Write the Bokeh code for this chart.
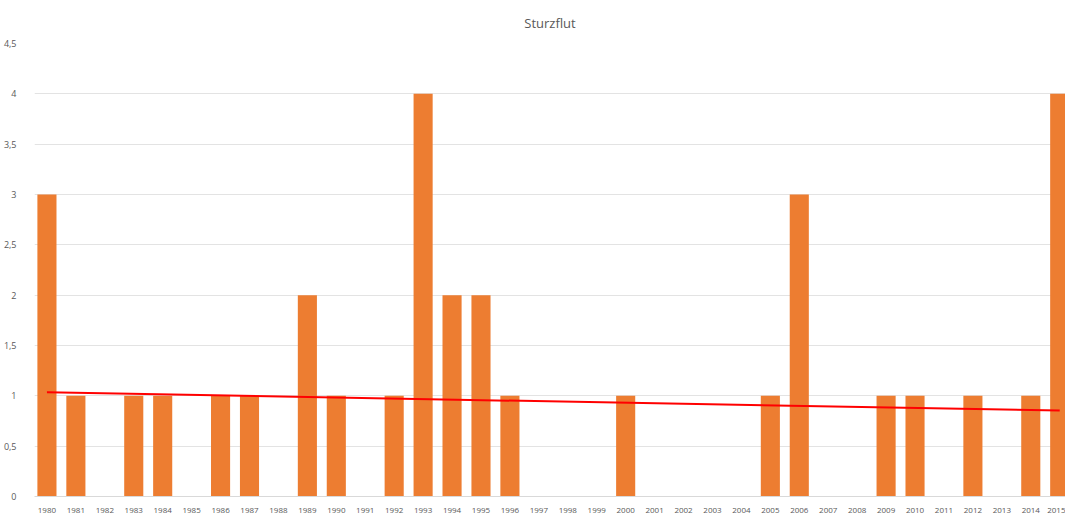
from bokeh.plotting import figure
from bokeh.models import FixedTicker, ColumnDataSource, Range1d
from bokeh.embed import file_html
from bokeh.resources import INLINE
import numpy as np

years = list(range(1980, 2016))
counts = [3, 1, 0, 1, 1, 0, 1, 1, 0, 2, 1, 0, 1, 4, 2, 2, 1, 0, 0, 0,
          1, 0, 0, 0, 0, 1, 3, 0, 0, 1, 1, 0, 1, 0, 1, 4]
y_ticks = [0, 0.5, 1, 1.5, 2, 2.5, 3, 3.5, 4, 4.5]
y_tick_labels = ["0", "0,5", "1", "1,5", "2", "2,5", "3", "3,5", "4", "4,5"]
title_text = "Sturzflut"

# linear trendline (as in the spreadsheet chart)
slope, intercept = np.polyfit(np.array(years, float), np.array(counts, float), 1)
trend_x = [years[0], years[-1]]
trend_y = [slope * x + intercept for x in trend_x]

FONT = "Open Sans"
GRAY = "#595959"

p = figure(width=1061, output_backend="svg", toolbar_location=None,
           frame_width=1031, frame_height=453,
           x_range=Range1d(1979.57, 2015.2), y_range=Range1d(0, 4.5),
           min_border_left=30, min_border_right=0, min_border_top=0, min_border_bottom=0)
p.title.text = title_text
p.title.align = "center"
p.title.text_font = FONT
p.title.text_font_size = "13px"
p.title.text_font_style = "normal"
p.title.text_color = GRAY
p.title.standoff = 23

src = ColumnDataSource(dict(x=years, top=counts))
p.vbar(x="x", top="top", width=0.66, bottom=0, source=src,
       fill_color="#ED7D31", line_color=None)
p.line(trend_x, trend_y, line_color="#FF0000", line_width=2)

p.xaxis.ticker = FixedTicker(ticks=years)
p.xaxis.major_label_text_font_size = "8px"
p.xaxis.major_label_text_font = FONT
p.xaxis.major_label_text_color = GRAY
p.xaxis.axis_line_color = "#d9d9d9"
p.xaxis.major_tick_line_color = None
p.xaxis.minor_tick_line_color = None
p.xaxis.major_label_standoff = 5

p.yaxis.ticker = FixedTicker(ticks=y_ticks)
p.yaxis.major_label_overrides = {t: l for t, l in zip(y_ticks, y_tick_labels)}
p.yaxis.major_label_text_font_size = "9px"
p.yaxis.major_label_text_font = FONT
p.yaxis.major_label_text_color = GRAY
p.yaxis.axis_line_color = None
p.yaxis.major_tick_line_color = None
p.yaxis.minor_tick_line_color = None
p.yaxis.major_label_standoff = 12

p.xgrid.grid_line_color = None
p.ygrid.grid_line_color = "#e3e3e3"
p.ygrid.grid_line_width = 1
p.outline_line_color = None

open("out.html", "w").write(file_html(p, INLINE))
